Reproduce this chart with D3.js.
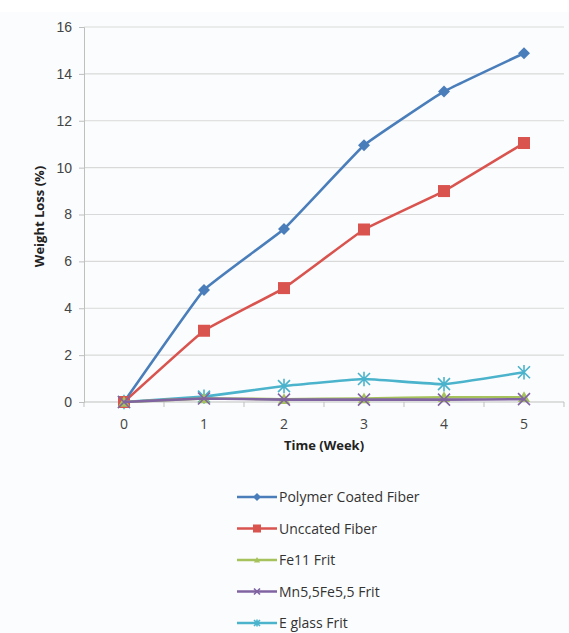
<!DOCTYPE html>
<html>
<head>
<meta charset="utf-8">
<script src="https://cdn.jsdelivr.net/npm/d3@7"></script>
<style>
  body { margin: 0; background: #fff; }
  svg { font-family: 'Open Sans', 'Liberation Sans', sans-serif; }
</style>
</head>
<body>
<div id="chart"></div>
<script>
// Chart values
let weeks = [0, 1, 2, 3, 4, 5];
let yTicks = [0, 2, 4, 6, 8, 10, 12, 14, 16];
let seriesNames = ['Polymer Coated Fiber', 'Unccated Fiber', 'Fe11 Frit', 'Mn5,5Fe5,5 Frit', 'E glass Frit'];
let polymerCoated = [0, 4.78, 7.38, 10.95, 13.25, 14.88];
let uncoated = [0, 3.04, 4.86, 7.36, 9.0, 11.05];
let fe11 = [0, 0.15, 0.12, 0.15, 0.2, 0.2];
let mn55fe55 = [0, 0.15, 0.1, 0.1, 0.1, 0.12];
let eGlass = [0, 0.23, 0.68, 0.98, 0.76, 1.27];
let seriesColors = ['#4a7ebb', '#d9534f', '#a5c25c', '#8064a2', '#4bb3cc'];
let seriesMarkers = ['diamond', 'square', 'triangle', 'cross', 'star'];

let allValues = [polymerCoated, uncoated, fe11, mn55fe55, eGlass];

let W = 569, H = 633;
let margin = {top: 27, right: 5, bottom: 231, left: 84};
let width = W - margin.left - margin.right;
let height = H - margin.top - margin.bottom;

let svg = d3.select('#chart')
    .append('svg')
    .attr('width', W)
    .attr('height', H);

// faint chart background
svg.append('rect')
    .attr('x', 0).attr('y', 12)
    .attr('width', W).attr('height', H - 12)
    .attr('fill', '#fbfcfd');

let g = svg.append('g')
    .attr('transform', 'translate(' + margin.left + ',' + margin.top + ')');

let xScale = d3.scaleBand().domain(weeks).range([0, 480]);
let yScale = d3.scaleLinear().domain([0, 16]).range([height, 0]);
let xPos = function(d) { return xScale(d) + xScale.bandwidth() / 2; };

// gridlines
g.selectAll('.grid')
    .data(yTicks.filter(function(d) { return d > 0; }))
    .enter().append('line')
    .attr('x1', 0).attr('x2', 480)
    .attr('y1', function(d) { return yScale(d); })
    .attr('y2', function(d) { return yScale(d); })
    .attr('stroke', '#d9d9d9')
    .attr('stroke-width', 1.2);

// y axis
let yAxis = g.append('g')
    .call(d3.axisLeft(yScale).tickValues(yTicks).tickSize(5).tickPadding(7));
yAxis.select('.domain').attr('stroke', '#bfbfbf');
yAxis.selectAll('.tick line').attr('stroke', '#bfbfbf');
yAxis.selectAll('text').attr('font-size', 14).attr('fill', '#444');

// x axis: tick marks between categories
let xAxis = g.append('g')
    .attr('transform', 'translate(0,' + height + ')');
xAxis.append('line')
    .attr('x1', 0).attr('x2', 480)
    .attr('stroke', '#bfbfbf');
xAxis.selectAll('.xtick')
    .data(weeks.concat([6]))
    .enter().append('line')
    .attr('x1', function(d, i) { return i * xScale.bandwidth(); })
    .attr('x2', function(d, i) { return i * xScale.bandwidth(); })
    .attr('y1', 0).attr('y2', 5)
    .attr('stroke', '#bfbfbf');
xAxis.selectAll('.xlabel')
    .data(weeks)
    .enter().append('text')
    .attr('x', xPos)
    .attr('y', 27)
    .attr('text-anchor', 'middle')
    .attr('font-size', 14)
    .attr('fill', '#444')
    .text(function(d) { return d; });

// axis titles
svg.append('text')
    .attr('transform', 'translate(44,' + (margin.top + height / 2 + 2) + ') rotate(-90)')
    .attr('text-anchor', 'middle')
    .attr('font-size', 13)
    .attr('font-weight', 'bold')
    .attr('fill', '#222')
    .text('Weight Loss (%)');

svg.append('text')
    .attr('x', margin.left + 240)
    .attr('y', 450)
    .attr('text-anchor', 'middle')
    .attr('font-size', 13)
    .attr('font-weight', 'bold')
    .attr('fill', '#222')
    .text('Time (Week)');

function drawMarker(sel, type, color, size) {
    let s = size;
    if (type === 'diamond') {
        sel.append('path')
            .attr('d', 'M0,' + (-s) + 'L' + s + ',0L0,' + s + 'L' + (-s) + ',0Z')
            .attr('fill', color);
    } else if (type === 'square') {
        sel.append('rect')
            .attr('x', -s).attr('y', -s)
            .attr('width', 2 * s).attr('height', 2 * s)
            .attr('fill', color);
    } else if (type === 'triangle') {
        sel.append('path')
            .attr('d', 'M0,' + (-s) + 'L' + s + ',' + (s * 0.8) + 'L' + (-s) + ',' + (s * 0.8) + 'Z')
            .attr('fill', color);
    } else if (type === 'cross') {
        sel.append('path')
            .attr('d', 'M' + (-s) + ',' + (-s) + 'L' + s + ',' + s + 'M' + (-s) + ',' + s + 'L' + s + ',' + (-s))
            .attr('stroke', color).attr('stroke-width', 1.6);
    } else if (type === 'star') {
        sel.append('path')
            .attr('d', 'M' + (-s) + ',' + (-s) + 'L' + s + ',' + s + 'M' + (-s) + ',' + s + 'L' + s + ',' + (-s) +
                'M0,' + (-s * 1.2) + 'L0,' + (s * 1.2))
            .attr('stroke', color).attr('stroke-width', 1.6);
    }
}

let line = d3.line()
    .x(function(d, i) { return xPos(weeks[i]); })
    .y(function(d) { return yScale(d); })
    .curve(d3.curveCardinal.tension(0.75));

let drawOrder = [4, 0, 1, 2, 3];
drawOrder.forEach(function(k) {
    let values = allValues[k];
    g.append('path')
        .datum(values)
        .attr('d', line)
        .attr('fill', 'none')
        .attr('stroke', seriesColors[k])
        .attr('stroke-width', 2.6);
    let pts = g.selectAll('.pt-' + k)
        .data(values)
        .enter().append('g')
        .attr('class', 'pt-' + k)
        .attr('transform', function(d, i) { return 'translate(' + xPos(weeks[i]) + ',' + yScale(d) + ')'; });
    pts.each(function() {
        drawMarker(d3.select(this), seriesMarkers[k], seriesColors[k], 6);
    });
});

// legend
let legend = svg.append('g').attr('transform', 'translate(237,497)');
seriesNames.forEach(function(name, i) {
    let row = legend.append('g').attr('transform', 'translate(0,' + (i * 31.5) + ')');
    row.append('line')
        .attr('x1', 0).attr('x2', 40)
        .attr('stroke', seriesColors[i])
        .attr('stroke-width', 2.6);
    let m = row.append('g').attr('transform', 'translate(20,0)');
    drawMarker(m, seriesMarkers[i], seriesColors[i], i < 2 ? 4 : 3);
    row.append('text')
        .attr('x', 42)
        .attr('y', 5)
        .attr('font-size', 14)
        .attr('fill', '#333')
        .text(name);
});
</script>
</body>
</html>
